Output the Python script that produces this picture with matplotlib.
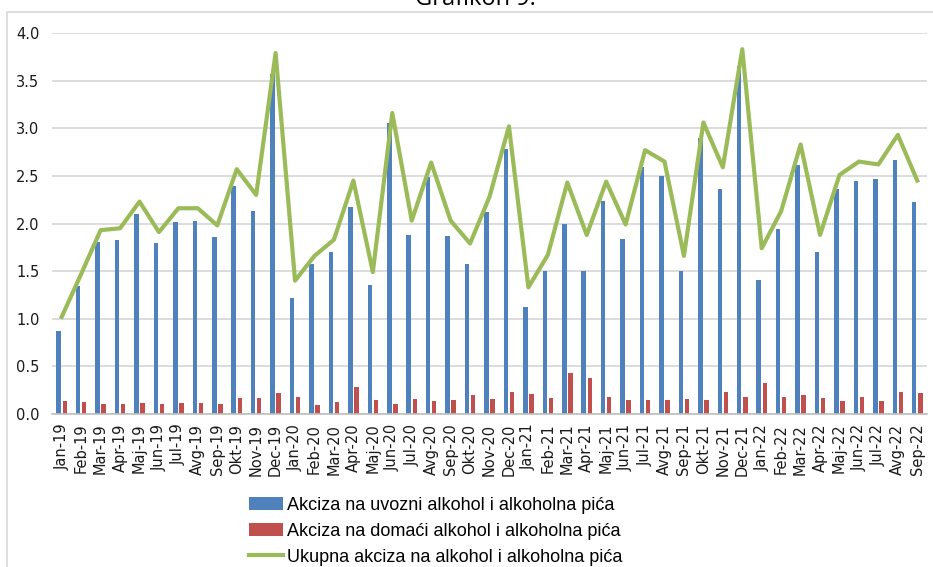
import matplotlib.pyplot as plt
import numpy as np
from matplotlib.patches import Rectangle

# mjeseci Jan-19 .. Sep-22
mjeseci = ['Jan', 'Feb', 'Mar', 'Apr', 'Maj', 'Jun', 'Jul', 'Avg', 'Sep', 'Okt', 'Nov', 'Dec']
oznake = [f'{m}-{g}' for g in ['19', '20', '21', '22'] for m in mjeseci][:45]

uvozni = [0.87, 1.34, 1.81, 1.83, 2.10, 1.80, 2.02, 2.03, 1.86, 2.39, 2.13, 3.57,
          1.22, 1.57, 1.70, 2.17, 1.35, 3.06, 1.88, 2.49, 1.87, 1.58, 2.12, 2.78,
          1.12, 1.50, 1.99, 1.50, 2.24, 1.84, 2.59, 2.50, 1.50, 2.90, 2.36, 3.65,
          1.41, 1.94, 2.61, 1.70, 2.36, 2.45, 2.47, 2.67, 2.23]
domaci = [0.14, 0.13, 0.10, 0.11, 0.12, 0.10, 0.12, 0.12, 0.11, 0.17, 0.17, 0.22,
          0.18, 0.09, 0.13, 0.28, 0.15, 0.10, 0.16, 0.14, 0.15, 0.20, 0.16, 0.23,
          0.21, 0.17, 0.43, 0.38, 0.18, 0.15, 0.15, 0.15, 0.16, 0.15, 0.23, 0.18,
          0.33, 0.18, 0.20, 0.17, 0.14, 0.18, 0.14, 0.23, 0.22]
ukupno = [1.02, 1.47, 1.93, 1.95, 2.23, 1.91, 2.16, 2.16, 1.98, 2.57, 2.30, 3.79,
          1.40, 1.66, 1.83, 2.45, 1.49, 3.16, 2.03, 2.64, 2.03, 1.79, 2.28, 3.02,
          1.33, 1.67, 2.43, 1.88, 2.44, 1.99, 2.77, 2.65, 1.66, 3.06, 2.59, 3.83,
          1.74, 2.13, 2.83, 1.88, 2.51, 2.65, 2.62, 2.93, 2.45]

W, H = 933, 567
fig = plt.figure(figsize=(W / 100, H / 100), dpi=100)

# okvir grafikona
fig.patches.append(Rectangle((7 / W, -0.1), 1.2, 1 - 12 / H + 0.1, transform=fig.transFigure,
                             fill=False, edgecolor='#d9d9d9', linewidth=1.2))
# naslov je u izvornom dokumentu odrezan na vrhu
fig.text(475 / W, 1 - 5 / H, 'Grafikon 9.', ha='center', va='baseline', fontsize=17,
         family='Open Sans', color='black')

ax = fig.add_axes([52 / W, 1 - 414 / H, (927 - 52) / W, (414 - 33) / H])
x = np.arange(len(oznake))

b1 = ax.bar(x - 0.155, uvozni, width=0.23, color='#4f81bd', zorder=2)
b2 = ax.bar(x + 0.155, domaci, width=0.23, color='#c0504d', zorder=2)
l1, = ax.plot(x, ukupno, color='#9bbb59', linewidth=3.0, zorder=3)

ax.set_xlim(-0.5, len(oznake) - 0.5)
ax.set_ylim(0, 4.0)
ax.set_yticks(np.arange(0, 4.01, 0.5))
ax.set_yticklabels([f'{v:.1f}' for v in np.arange(0, 4.01, 0.5)], fontsize=10.5)
ax.set_xticks(x)
ax.set_xticklabels(oznake, rotation=90, fontsize=10.5)
ax.tick_params(axis='both', length=0, colors='#1a1a1a')
ax.tick_params(axis='y', pad=9)
ax.tick_params(axis='x', pad=7)

ax.grid(axis='y', color='#d9d9d9', linewidth=1.3, zorder=0)
ax.set_axisbelow(True)
for s in ['top', 'right', 'left']:
    ax.spines[s].set_visible(False)
ax.spines['bottom'].set_color('#bfbfbf')
ax.spines['bottom'].set_linewidth(1.2)

ax.legend([b1, b2, l1],
          ['Akciza na uvozni alkohol i alkoholna pića',
           'Akciza na domaći alkohol i alkoholna pića',
           'Ukupna akciza na alkohol i alkoholna pića'],
          loc='upper left', bbox_to_anchor=(236 / W, 1 - 484 / H), bbox_transform=fig.transFigure,
          frameon=False, prop={'family': 'Liberation Sans', 'size': 13},
          handlelength=1.9, handleheight=0.7, handletextpad=0.2, labelspacing=0.5,
          borderpad=0.2)

fig.savefig('out.png', dpi=100)
